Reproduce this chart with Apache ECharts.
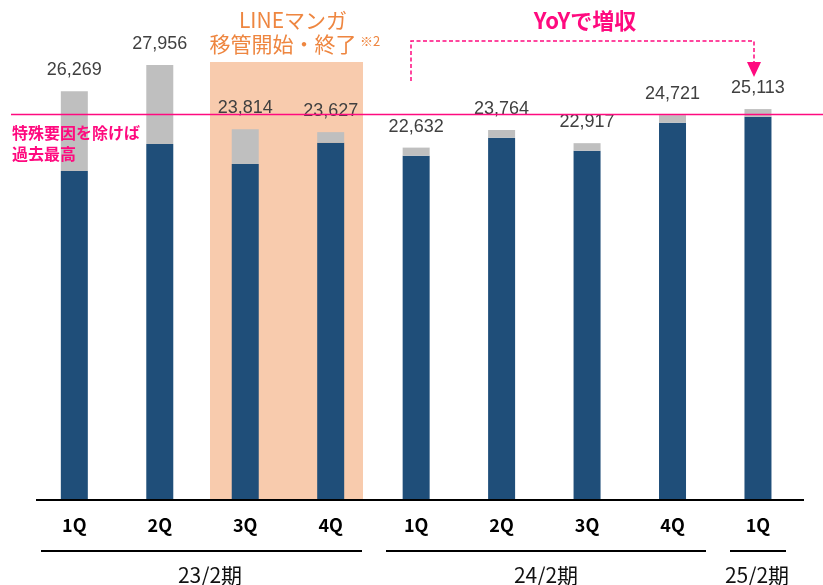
<!DOCTYPE html>
<html><head><meta charset="utf-8">
<script src="https://cdn.jsdelivr.net/npm/echarts@6/dist/echarts.min.js"></script>
<style>html,body{margin:0;padding:0;background:#fff}#c{width:823px;height:585px}</style>
</head><body><div id="c"></div>
<script>
// ---- data ----
const quarters = ['1Q','2Q','3Q','4Q','1Q','2Q','3Q','4Q','1Q'];
const periodOfBar = ['23/2','23/2','23/2','23/2','24/2','24/2','24/2','24/2','25/2'];
const totals = [26269, 27956, 23814, 23627, 22632, 23764, 22917, 24721, 25113];
const baseValues = [21123, 22862, 21574, 22946, 22109, 23268, 22431, 24234, 24620];
const specialValues = [5146, 5094, 2240, 681, 523, 496, 486, 487, 493];
const periodLabels = ['23/2期', '24/2期', '25/2期'];
const annoLine = ['LINEマンガ', '移管開始・終了', '※2'];
const yoyText = 'YoYで増収';
const recordText = ['特殊要因を除けば', '過去最高'];

const categories = quarters.map((q, i) => periodOfBar[i] + ' ' + q);
const PINK = '#FF0A7F', ORANGE = '#EE8640', JP = '"Noto Sans CJK JP", sans-serif';

const chart = echarts.init(document.getElementById('c'), null, {renderer: 'canvas'});
const txt = (text, x, y, size, color, weight, align) => ({
  type: 'text', z: 100, x: x, y: y,
  style: { text: text, fill: color, fontSize: size, fontFamily: JP, fontWeight: weight || 'normal',
           textAlign: align || 'center', textVerticalAlign: 'middle', align: align || 'center', verticalAlign: 'middle' }
});
chart.setOption({
  animation: false,
  backgroundColor: '#fff',
  grid: { left: 31.6, right: 22.3, top: 33.2, bottom: 86 },
  xAxis: {
    type: 'category', data: categories,
    axisLine: { show: false }, axisTick: { show: false },
    axisLabel: { margin: 17, fontSize: 18, fontWeight: 'bold', color: '#000', fontFamily: JP,
                 formatter: v => v.split(' ')[1] }
  },
  yAxis: { type: 'value', min: 0, max: 30000, show: false, splitLine: { show: false } },
  series: [
    { type: 'bar', stack: 's', data: baseValues, barWidth: 27, itemStyle: { color: '#1F4E79' }, z: 2 },
    { type: 'bar', stack: 's', data: specialValues, barWidth: 27, itemStyle: { color: '#BFBFBF' }, z: 2,
      label: { show: true, position: 'top', distance: 12, fontSize: 18, color: '#404040',
               fontFamily: '"Liberation Sans", Arial, sans-serif',
               formatter: p => totals[p.dataIndex].toLocaleString('en-US') } }
  ],
  graphic: [
    { type: 'rect', z: 0, shape: { x: 210, y: 62, width: 153, height: 437 }, style: { fill: '#F8CBAD' } },
    { type: 'line', z: 100, shape: { x1: 36, y1: 500, x2: 804, y2: 500 }, style: { stroke: '#000', lineWidth: 2 } },
    { type: 'line', z: 100, shape: { x1: 11, y1: 114.5, x2: 823, y2: 114.5 }, style: { stroke: PINK, lineWidth: 1.5 } },
    { type: 'polyline', z: 100, shape: { points: [[411, 81], [411, 41], [754, 41], [754, 63]] },
      style: { stroke: PINK, lineWidth: 1.5, lineDash: [4, 2.5], fill: null } },
    { type: 'polygon', z: 100, shape: { points: [[747, 62], [761, 62], [754, 77]] }, style: { fill: PINK } },
    { type: 'line', z: 100, shape: { x1: 41, y1: 551, x2: 362, y2: 551 }, style: { stroke: '#000', lineWidth: 2 } },
    { type: 'line', z: 100, shape: { x1: 386, y1: 551, x2: 706, y2: 551 }, style: { stroke: '#000', lineWidth: 2 } },
    { type: 'line', z: 100, shape: { x1: 730, y1: 551, x2: 786, y2: 551 }, style: { stroke: '#000', lineWidth: 2 } },
    txt(periodLabels[0], 210, 575, 21, '#111'),
    txt(periodLabels[1], 546, 575, 21, '#111'),
    txt(periodLabels[2], 757, 575, 21, '#111'),
    txt(annoLine[0], 293, 20, 21, ORANGE),
    txt(annoLine[1], 283, 44, 21, ORANGE),
    txt(annoLine[2], 370, 41, 13, ORANGE),
    txt(yoyText, 585, 21, 22, PINK, 'bold'),
    txt(recordText[0], 12, 133, 16, PINK, 'bold', 'left'),
    txt(recordText[1], 12, 154, 16, PINK, 'bold', 'left')
  ]
});
</script></body></html>
